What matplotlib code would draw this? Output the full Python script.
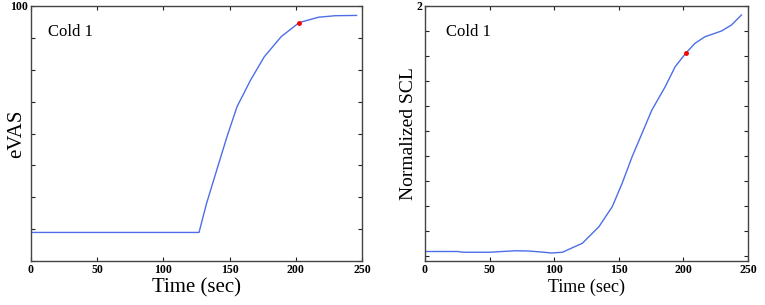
import numpy as np
import matplotlib
matplotlib.use('Agg')
import matplotlib.pyplot as plt

# values
evasTime = [0, 126.9, 132.6, 140.3, 148, 155.6, 165.9, 176.2, 189, 202.6, 217.2, 230, 245.9]
evasVal = [11.2, 11.2, 22.6, 35.7, 48.7, 60.5, 71, 80.1, 88, 93.5, 95.6, 96.2, 96.3]
evasMark = (202.6, 93.5)

sclTime = [0, 25, 30, 50, 60, 70, 80, 90, 98, 106.4, 111.5, 121.8, 134.6, 144.9, 152.6, 160.3,
           168, 175.6, 185.9, 193.6, 201.8, 209, 216.7, 229.5, 237.2, 244.9]
sclVal = [1.018, 1.018, 1.015, 1.015, 1.018, 1.021, 1.020, 1.016, 1.012, 1.015, 1.027, 1.051,
          1.117, 1.197, 1.291, 1.397, 1.491, 1.584, 1.677, 1.757, 1.811, 1.851, 1.877, 1.9,
          1.924, 1.964]
sclMark = (201.8, 1.811)

xTicks = [0, 50, 100, 150, 200, 250]

lineColor = '#4d6ee8'
serif = ['Liberation Serif', 'DejaVu Serif']

fig = plt.figure(figsize=(7.65, 3.05), dpi=100)
axL = fig.add_axes([31/765, 44/305, 331/765, 255/305])
axR = fig.add_axes([425/765, 44/305, 323/765, 255/305])

def styleAxis(ax, yTicks, topLabel):
    ax.set_xlim(0, 250)
    ax.set_xticks(xTicks)
    ax.set_yticks(yTicks)
    ax.set_yticklabels([topLabel if i == len(yTicks) - 1 else '' for i in range(len(yTicks))])
    ax.tick_params(direction='in', top=True, right=True, length=3, width=0.8, pad=2,
                   colors='#222222')
    for lab in ax.get_xticklabels() + ax.get_yticklabels():
        lab.set_fontfamily(serif)
        lab.set_fontweight('bold')
        lab.set_fontsize(8.5)
        lab.set_color('black')
    for s in ax.spines.values():
        s.set_color('#444444')
        s.set_linewidth(1.0)

# left panel: eVAS
axL.plot(evasTime, evasVal, color=lineColor, linewidth=1.0)
axL.plot(*evasMark, 'o', color='red', markersize=2.5)
axL.set_ylim(0, 100)
styleAxis(axL, np.linspace(0, 100, 9), '100')
axL.text(0.05, 0.9, 'Cold 1', transform=axL.transAxes, fontsize=12, family=serif, va='center')
axL.set_xlabel('Time (sec)', fontsize=15, family=serif, labelpad=2)
axL.set_ylabel('eVAS', fontsize=15, family=serif, va='center')
axL.yaxis.set_label_coords(-0.042, 0.5)

# right panel: normalized SCL
axR.plot(sclTime, sclVal, color=lineColor, linewidth=1.0)
axR.plot(*sclMark, 'o', color='red', markersize=2.5)
axR.set_ylim(0.98, 2.0)
styleAxis(axR, np.round(np.arange(1.0, 2.01, 0.1), 2), '2')
axR.text(0.065, 0.9, 'Cold 1', transform=axR.transAxes, fontsize=12, family=serif, va='center')
axR.set_xlabel('Time (sec)', fontsize=13, family=serif, labelpad=2)
axR.set_ylabel('Normalized SCL', fontsize=14, family=serif, va='center')
axR.yaxis.set_label_coords(-0.05, 0.5)

fig.savefig('out.png', dpi=100)
